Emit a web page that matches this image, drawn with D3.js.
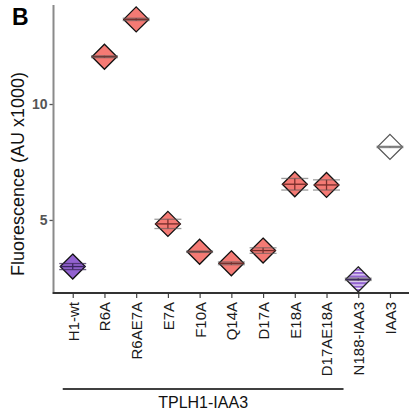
<!DOCTYPE html>
<html>
<head>
<meta charset="utf-8">
<script src="https://cdn.jsdelivr.net/npm/d3@7"></script>
<style>
  html, body { margin: 0; padding: 0; background: #fff; }
  svg { display: block; font-family: "Liberation Sans", Arial, sans-serif; }
</style>
</head>
<body>
<svg id="chart" width="409" height="419"></svg>
<script>
// Constructs and their mean fluorescence (AU x1000) with error
const categories = ["H1-wt", "R6A", "R6AE7A", "E7A", "F10A", "Q14A", "D17A", "E18A", "D17AE18A", "N188-IAA3", "IAA3"];
const means      = [2.99, 12.04, 13.65, 4.83, 3.63, 3.13, 3.68, 6.54, 6.51, 2.44, 8.15];
const errors     = [0.13, 0.04, 0.05, 0.20, 0.03, 0.06, 0.12, 0.25, 0.22, 0.05, 0.03];
const groups     = ["wt", "mut", "mut", "mut", "mut", "mut", "mut", "mut", "mut", "n188", "iaa3"];
const yTicks     = [5, 10];
const bracketLabel = "TPLH1-IAA3";
const bracketSpan  = ["H1-wt", "D17AE18A"];

const svg = d3.select("#chart");

const plotLeft = 53.7, plotRight = 409, plotTop = 5, plotBottom = 293;

const x = d3.scalePoint().domain(categories).range([plotLeft, plotRight]).padding(0.6);
const y = d3.scaleLinear().domain([1.85, 14.27]).range([plotBottom, plotTop]);

// striped fill for the truncated construct
const defs = svg.append("defs");
const pat = defs.append("pattern")
  .attr("id", "stripes").attr("patternUnits", "userSpaceOnUse")
  .attr("width", 6).attr("height", 3.4);
pat.append("rect").attr("width", 6).attr("height", 3.4).attr("fill", "#9262d0");
pat.append("rect").attr("y", 2.2).attr("width", 6).attr("height", 1.2).attr("fill", "#ffffff").attr("opacity", 0.9);

const style = {
  wt:   { fill: "#9262d0", stroke: "#111", line: "#3a2560", cap: "rgba(60,40,90,0.75)" },
  mut:  { fill: "#f47a74", stroke: "#111", line: "#7a2f2c", cap: "rgba(90,90,90,0.6)" },
  n188: { fill: "url(#stripes)", stroke: "#222", line: "#3a2560", cap: "rgba(90,90,90,0.6)" },
  iaa3: { fill: "#ffffff", stroke: "#555", line: "#666", cap: "rgba(120,120,120,0.6)" }
};

// y axis
const yAxis = svg.append("g").attr("transform", `translate(${plotLeft - 0.2},0)`);
yAxis.call(d3.axisLeft(y).tickValues(yTicks).tickSize(4).tickPadding(2))
  .call(g => g.select(".domain").remove())
  .call(g => g.selectAll(".tick line").attr("stroke", "#555").attr("stroke-width", 1.3))
  .call(g => g.selectAll(".tick text").attr("fill", "#555").attr("font-size", 14)
    .attr("font-weight", "bold").attr("font-family", "'Liberation Sans', Arial, sans-serif"));
yAxis.append("line").attr("x1", 0).attr("x2", 0).attr("y1", plotTop).attr("y2", plotBottom + 1)
  .attr("stroke", "#8a8a8a").attr("stroke-width", 2);

// x axis
const xAxis = svg.append("g").attr("transform", `translate(0,${plotBottom})`);
xAxis.call(d3.axisBottom(x).tickSize(5).tickPadding(6))
  .call(g => g.select(".domain").remove())
  .call(g => g.selectAll(".tick line").attr("stroke", "#444").attr("stroke-width", 1.2))
  .call(g => g.selectAll(".tick text")
    .attr("fill", "#1a1a1a").attr("font-size", 15)
    .attr("font-family", "'Liberation Sans', Arial, sans-serif")
    .attr("transform", "rotate(-90)")
    .attr("text-anchor", "end")
    .attr("x", -9).attr("y", 0).attr("dy", "0.36em"));
xAxis.append("line").attr("x1", plotLeft - 1).attr("x2", plotRight).attr("y1", 0).attr("y2", 0)
  .attr("stroke", "#333").attr("stroke-width", 2);

// axis title
svg.append("text")
  .attr("transform", `translate(24,174) rotate(-90)`)
  .attr("text-anchor", "middle")
  .attr("font-size", 18).attr("fill", "#111")
  .text("Fluorescence (AU x1000)");

// panel letter
svg.append("text").attr("x", 12).attr("y", 25)
  .attr("font-size", 23).attr("font-weight", "bold").attr("fill", "#000").text("B");

// points
const data = categories.map((c, i) => ({ c, m: means[i], e: errors[i], s: style[groups[i]] }));
const r = 12.5, capHalf = 13.5;
const pts = svg.append("g").selectAll("g").data(data).join("g")
  .attr("transform", d => `translate(${x(d.c)},0)`);

pts.append("path")
  .attr("d", d => {
    const cy = y(d.m);
    return `M0,${cy - r}L${r},${cy}L0,${cy + r}L${-r},${cy}Z`;
  })
  .attr("fill", d => d.s.fill)
  .attr("stroke", d => d.s.stroke).attr("stroke-width", 1.3)
  .attr("stroke-linejoin", "miter");

// mean line across the diamond
pts.append("line")
  .attr("x1", -r).attr("x2", r)
  .attr("y1", d => y(d.m)).attr("y2", d => y(d.m))
  .attr("stroke", d => d.s.line).attr("stroke-width", 1.4);

// error bars
pts.append("line")
  .attr("x1", 0).attr("x2", 0)
  .attr("y1", d => y(d.m - d.e)).attr("y2", d => y(d.m + d.e))
  .attr("stroke", d => d.s.line).attr("stroke-width", 1.3);
pts.selectAll(".cap").data(d => [[d, d.m - d.e], [d, d.m + d.e]]).join("line")
  .attr("class", "cap")
  .attr("x1", -capHalf).attr("x2", capHalf)
  .attr("y1", d => y(d[1])).attr("y2", d => y(d[1]))
  .attr("stroke", d => d[0].s.cap).attr("stroke-width", 1.3);

// group bracket
const bx0 = x(bracketSpan[0]) - 10, bx1 = x(bracketSpan[1]) + 17;
svg.append("line").attr("x1", bx0).attr("x2", bx1).attr("y1", 389).attr("y2", 389)
  .attr("stroke", "#000").attr("stroke-width", 1.5);
svg.append("text").attr("x", (bx0 + bx1) / 2).attr("y", 408)
  .attr("text-anchor", "middle").attr("font-size", 16).attr("fill", "#111")
  .text(bracketLabel);
</script>
</body>
</html>
